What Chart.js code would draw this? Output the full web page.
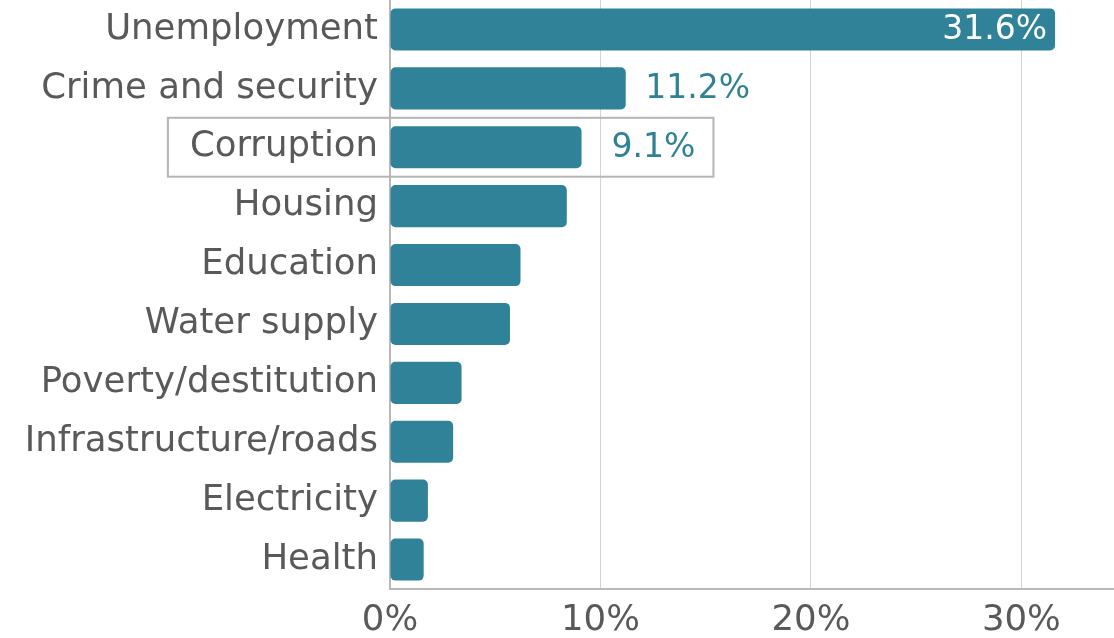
<!DOCTYPE html>
<html><head><meta charset="utf-8">
<script src="https://cdn.jsdelivr.net/npm/chart.js@4/dist/chart.umd.min.js"></script>
<style>html,body{margin:0;padding:0;background:#fff}#wrap{width:1114px;height:638px;position:relative}</style>
</head><body><div id="wrap"><canvas id="c"></canvas></div>
<script>
const categories = ['Unemployment','Crime and security','Corruption','Housing','Education','Water supply','Poverty/destitution','Infrastructure/roads','Electricity','Health'];
const values = [31.6, 11.2, 9.1, 8.4, 6.2, 5.7, 3.4, 3.0, 1.8, 1.6];
const labelledCategories = ['Unemployment','Crime and security','Corruption'];
const xTickValues = [0, 10, 20, 30];
const xMax = 34.4;
const highlighted = 'Corruption';

const FONT = 'DejaVu Sans';
const BAR = '#2f8297';
const LABEL_TEAL = '#2f8196';
const TEXT = '#595959';
const LABEL_FONT = '33px "' + FONT + '"';
const CAT_FONT_SIZE = 35.5;

const labelPlugin = {
  id: 'valueLabels',
  afterDatasetsDraw(chart) {
    const ctx = chart.ctx;
    const meta = chart.getDatasetMeta(0);
    ctx.save();
    ctx.font = LABEL_FONT;
    ctx.textBaseline = 'middle';
    meta.data.forEach((bar, i) => {
      if (!labelledCategories.includes(categories[i])) return;
      const v = values[i];
      const txt = v.toFixed(1) + '%';
      if (v > 20) {
        ctx.fillStyle = '#ffffff';
        ctx.textAlign = 'right';
        ctx.fillText(txt, bar.x - 8, bar.y + 1);
      } else {
        ctx.fillStyle = LABEL_TEAL;
        ctx.textAlign = 'center';
        ctx.fillText(txt, bar.x + 72, bar.y + 1);
      }
    });
    ctx.restore();
  }
};

const boxPlugin = {
  id: 'highlightBox',
  afterDraw(chart) {
    const idx = categories.indexOf(highlighted);
    if (idx < 0) return;
    const ctx = chart.ctx;
    const y = chart.scales.y;
    const bar = chart.getDatasetMeta(0).data[idx];
    const band = (y.bottom - y.top) / categories.length;
    const cy = y.getPixelForValue(idx);
    ctx.save();
    ctx.font = CAT_FONT_SIZE + 'px "' + FONT + '"';
    const lw = ctx.measureText(categories[idx]).width;
    ctx.font = LABEL_FONT;
    const vw = ctx.measureText(values[idx].toFixed(1) + '%').width;
    const left = chart.chartArea.left - 12 - lw - 22;
    const right = bar.x + 72 + vw / 2 + 18;
    ctx.strokeStyle = '#b5b5b5';
    ctx.lineWidth = 2;
    ctx.strokeRect(left, cy - band / 2, right - left, band);
    ctx.restore();
  }
};

new Chart(document.getElementById('c'), {
  type: 'bar',
  data: {
    labels: categories,
    datasets: [{
      data: values,
      backgroundColor: BAR,
      borderRadius: 5,
      borderSkipped: false,
      barPercentage: 0.715,
      categoryPercentage: 1
    }]
  },
  options: {
    indexAxis: 'y',
    responsive: true,
    maintainAspectRatio: false,
    animation: false,
    layout: { padding: 0 },
    plugins: { legend: { display: false }, tooltip: { enabled: false } },
    scales: {
      x: {
        min: 0, max: xMax,
        afterFit(s) { s.height = 49; s.paddingLeft = 0; s.paddingRight = 0; },
        afterBuildTicks(s) { s.ticks = xTickValues.map(v => ({ value: v })); },
        ticks: {
          includeBounds: false,
          padding: 10,
          color: TEXT,
          font: { family: FONT, size: CAT_FONT_SIZE },
          callback: v => v + '%'
        },
        grid: { color: '#d3d3d3', lineWidth: 1, drawTicks: false },
        border: { display: true, color: '#b8b8b8', width: 2 }
      },
      y: {
        afterFit(s) { s.width = 390; s.paddingTop = 0; s.paddingBottom = 0; },
        ticks: {
          padding: 12,
          color: TEXT,
          font: { family: FONT, size: CAT_FONT_SIZE }
        },
        grid: { display: false, drawTicks: false },
        border: { display: true, color: '#b8b8b8', width: 2 }
      }
    }
  },
  plugins: [labelPlugin, boxPlugin]
});
</script>
</body></html>
